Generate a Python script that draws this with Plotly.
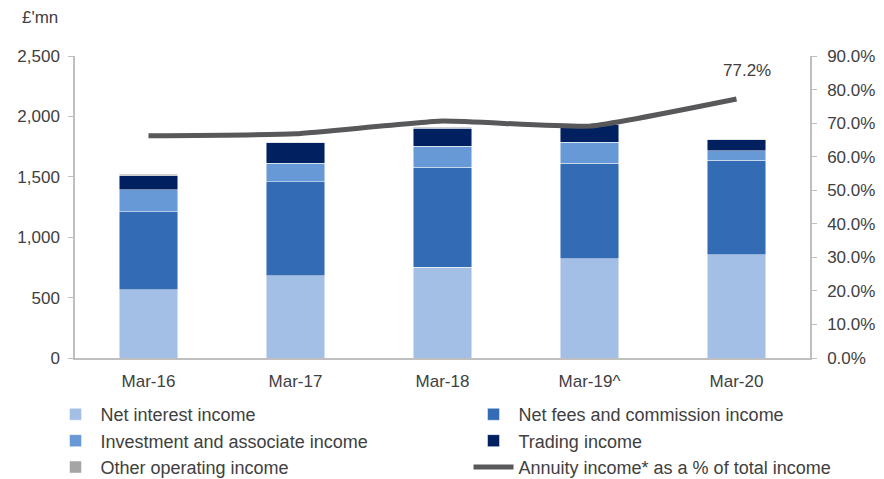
import plotly.graph_objects as go

categories = ["Mar-16", "Mar-17", "Mar-18", "Mar-19^", "Mar-20"]
net_interest = [565, 679, 753, 820, 853]
net_fees = [644, 778, 828, 794, 786]
investment = [182, 157, 174, 174, 75]
trading = [116, 166, 149, 142, 91]
other = [16, 8, 6, 6, 5]
annuity_pct = [0.662, 0.668, 0.706, 0.691, 0.772]
annuity_label = "77.2%"

colors = {
    "ni": "#A3BFE6",
    "fees": "#336CB5",
    "inv": "#6699D6",
    "trd": "#002060",
    "oth": "#A5A5A5",
    "line": "#58585B",
}

fig = go.Figure()
bar_line = dict(color="rgba(255,255,255,0.6)", width=0.8)
series = [
    ("Net interest income", net_interest, colors["ni"], "legend"),
    ("Net fees and commission income", net_fees, colors["fees"], "legend2"),
    ("Investment and associate income", investment, colors["inv"], "legend"),
    ("Trading income", trading, colors["trd"], "legend2"),
    ("Other operating income", other, colors["oth"], "legend"),
]
for name, vals, col, lg in series:
    fig.add_trace(go.Bar(x=categories, y=vals, name=name, legend=lg,
                         marker=dict(color=col, line=bar_line), width=0.4))

fig.add_trace(go.Scatter(x=categories, y=annuity_pct, yaxis="y2", mode="lines",
                         name="Annuity income* as a % of total income", legend="legend2",
                         line=dict(color=colors["line"], width=5, shape="spline", smoothing=0.4)))

fig.add_annotation(x=categories[-1], y=annuity_pct[-1], yref="y2", text=annuity_label,
                   showarrow=False, yshift=28, xshift=10,
                   font=dict(size=17, color="#404040"))
fig.add_annotation(x=-0.075, y=1.126, xref="paper", yref="paper", text="£'mn",
                   showarrow=False, xanchor="left", yanchor="middle",
                   font=dict(size=17, color="#404040"))

font_family = "Liberation Sans, Arial, sans-serif"
legend_common = dict(orientation="v", xanchor="left", yanchor="top", traceorder="normal",
                     font=dict(size=18, color="#404040"), itemwidth=40,
                     bgcolor="rgba(0,0,0,0)")
fig.update_layout(
    width=884, height=479,
    margin=dict(l=67, r=82, t=48, b=129, autoexpand=False),
    barmode="stack",
    plot_bgcolor="white", paper_bgcolor="white",
    font=dict(family=font_family, size=17, color="#404040"),
    xaxis=dict(showline=True, linecolor="#BFBFBF", linewidth=1.5, showgrid=False,
               ticks="", tickfont=dict(size=17), ticklabelstandoff=7),
    yaxis=dict(range=[0, 2500], dtick=500, tickformat=",", showline=True,
               linecolor="#BFBFBF", linewidth=1.5, showgrid=False, zeroline=False,
               ticks="outside", ticklen=5, tickcolor="#BFBFBF", ticklabelstandoff=5),
    yaxis2=dict(range=[0, 0.9], dtick=0.1, tickformat=".1%", overlaying="y", side="right",
                showline=True, linecolor="#BFBFBF", linewidth=1.5, showgrid=False,
                zeroline=False, ticks="outside", ticklen=5, tickcolor="#BFBFBF",
                ticklabelstandoff=7),
    legend=dict(x=-0.0333, y=-0.126, **legend_common),
    legend2=dict(x=0.5354, y=-0.126, **legend_common),
    showlegend=True,
)

fig.write_html("out.html")
